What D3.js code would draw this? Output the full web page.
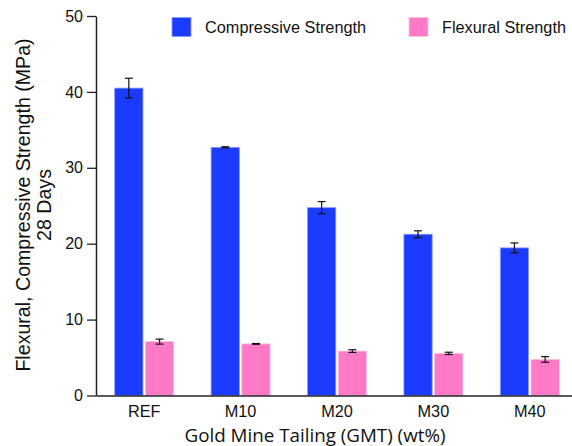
<!DOCTYPE html>
<html>
<head>
<meta charset="utf-8">
<script src="https://cdn.jsdelivr.net/npm/d3@7"></script>
<style>
  html, body { margin: 0; padding: 0; background: #ffffff; }
  svg { display: block; }
</style>
</head>
<body>
<svg id="chart" width="572" height="446"></svg>
<script>
// Mix designs and 28-day strengths (MPa), mean and standard deviation
const categories = ["REF", "M10", "M20", "M30", "M40"];
const seriesNames = ["Compressive Strength", "Flexural Strength"];
const compressive = [40.5, 32.7, 24.75, 21.25, 19.45];
const compressiveErr = [1.3, 0.08, 0.8, 0.45, 0.65];
const flexural = [7.1, 6.8, 5.85, 5.55, 4.75];
const flexuralErr = [0.33, 0.05, 0.18, 0.15, 0.37];
const yTicks = [0, 10, 20, 30, 40, 50];
const colors = ["#1b3bff", "#ff7ac6"];
const edgeColors = ["#8e9cff", "#ffbfe3"];

const svg = d3.select("#chart");
const plotLeft = 96, plotRight = 578, plotTop = 16, plotBottom = 395.5;
const sansFont = "Liberation Sans, Arial, sans-serif";

const y = d3.scaleLinear().domain([0, 50]).range([plotBottom, plotTop]);
const x0 = d3.scaleBand().domain(categories).range([plotLeft, plotRight]);
const groupW = 59;
const off = (x0.bandwidth() - groupW) / 2;
const x1 = d3.scaleBand().domain(seriesNames).range([off, off + groupW]).paddingInner(0.08);

const series = [
  { name: seriesNames[0], vals: compressive, errs: compressiveErr },
  { name: seriesNames[1], vals: flexural, errs: flexuralErr }
];

// Bars
series.forEach((s, si) => {
  svg.append("g").selectAll("rect")
    .data(categories)
    .join("rect")
    .attr("x", c => x0(c) + x1(s.name))
    .attr("y", (c, i) => y(s.vals[i]))
    .attr("width", x1.bandwidth())
    .attr("height", (c, i) => y(0) - y(s.vals[i]))
    .attr("fill", colors[si])
    .attr("stroke", edgeColors[si])
    .attr("stroke-width", 0.8);
});

// Error bars
series.forEach((s) => {
  const g = svg.append("g").attr("stroke", "#111").attr("stroke-width", 1.2).attr("fill", "none");
  categories.forEach((c, i) => {
    const cx = x0(c) + x1(s.name) + x1.bandwidth() / 2;
    const y1 = y(s.vals[i] + s.errs[i]);
    const y2 = y(s.vals[i] - s.errs[i]);
    g.append("line").attr("x1", cx).attr("x2", cx).attr("y1", y1).attr("y2", y2);
    g.append("line").attr("x1", cx - 4).attr("x2", cx + 4).attr("y1", y1).attr("y2", y1);
    g.append("line").attr("x1", cx - 4).attr("x2", cx + 4).attr("y1", y2).attr("y2", y2);
  });
});

// Y axis
const yAxis = svg.append("g")
  .attr("transform", `translate(${plotLeft},0)`)
  .call(d3.axisLeft(y).tickValues(yTicks).tickSize(9).tickPadding(4).tickSizeOuter(0));
yAxis.select(".domain").attr("stroke", "#222").attr("stroke-width", 1.5);
yAxis.selectAll(".tick line").attr("stroke", "#222").attr("stroke-width", 1.3);
yAxis.selectAll(".tick text")
  .attr("font-family", sansFont)
  .attr("font-size", 16).attr("fill", "#111");

// X axis (baseline and category labels, no tick marks)
const xAxis = svg.append("g")
  .attr("transform", `translate(0,${plotBottom})`)
  .call(d3.axisBottom(x0).tickSize(0).tickPadding(10).tickSizeOuter(0));
xAxis.select(".domain").attr("stroke", "#222").attr("stroke-width", 1.5);
xAxis.selectAll(".tick text")
  .attr("font-family", sansFont)
  .attr("font-size", 16.3).attr("fill", "#111");

// Axis titles
svg.append("text")
  .attr("x", 315).attr("y", 441.5)
  .attr("text-anchor", "middle")
  .attr("font-family", "Open Sans, sans-serif")
  .attr("font-size", 18.8).attr("fill", "#111")
  .text("Gold Mine Tailing (GMT) (wt%)");

const yt = svg.append("text")
  .attr("transform", "translate(0,205) rotate(-90)")
  .attr("text-anchor", "middle")
  .attr("font-family", sansFont)
  .attr("font-size", 19.6).attr("fill", "#111");
yt.append("tspan").attr("x", 0).attr("y", 30).text("Flexural, Compressive Strength (MPa)");
yt.append("tspan").attr("x", 0).attr("y", 50.5).text("28 Days");

// Legend
const legendX = [172, 409];
seriesNames.forEach((name, i) => {
  svg.append("rect")
    .attr("x", legendX[i]).attr("y", 17.5)
    .attr("width", 19).attr("height", 19)
    .attr("fill", colors[i])
    .attr("stroke", edgeColors[i]).attr("stroke-width", 0.8);
  svg.append("text")
    .attr("x", legendX[i] + 33).attr("y", 33)
    .attr("font-family", sansFont)
    .attr("font-size", 16.3).attr("fill", "#111")
    .text(name);
});
</script>
</body>
</html>
